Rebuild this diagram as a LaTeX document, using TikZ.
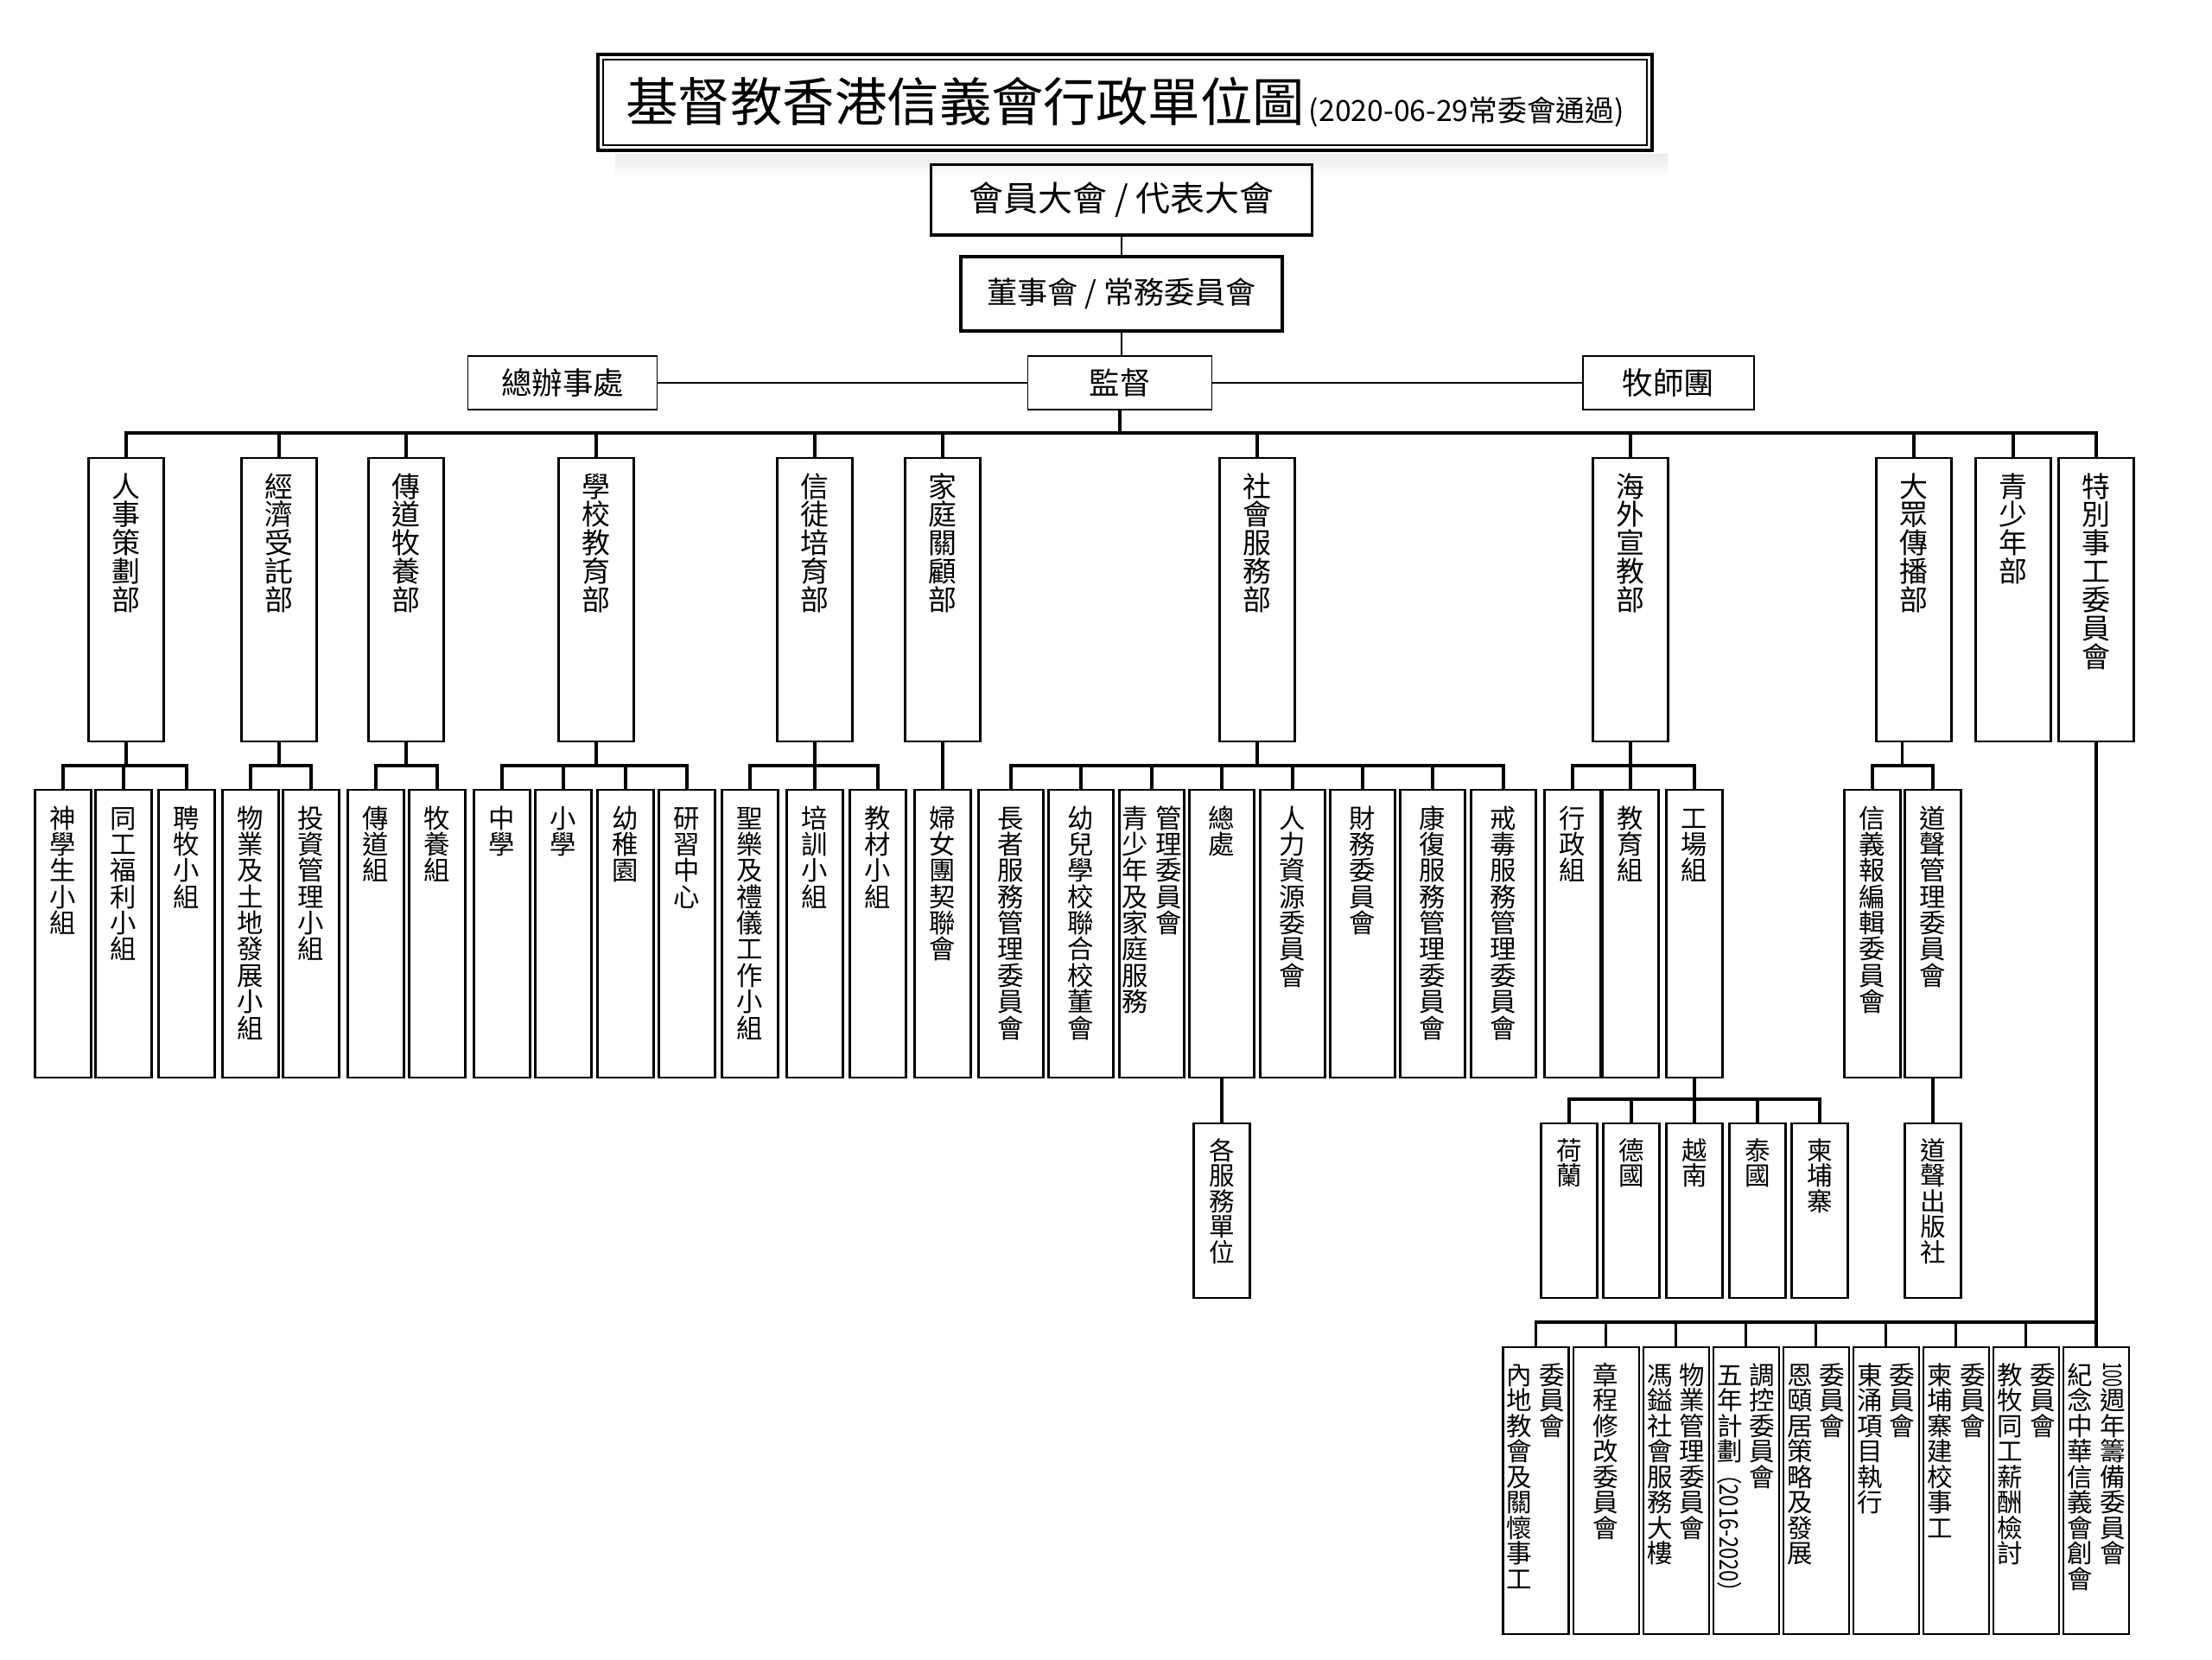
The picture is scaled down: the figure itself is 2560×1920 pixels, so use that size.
\documentclass[tikz,border=0pt]{standalone}
\usepackage{fontspec}
\setmainfont{Noto Sans CJK TC}
\usepackage{graphicx}
\def\vcolend{}
\newcommand{\vch}[1]{\hbox to 1em{\hss\vrule height .88em depth .12em width 0pt\relax#1\hss}}
\def\vcolloop#1{\ifx#1\vcolend\else\vch{#1}\expandafter\vcolloop\fi}
\newcommand{\vchars}[1]{\vcolloop#1\vcolend}
\newcommand{\vcolsetup}{\baselineskip=1em\lineskiplimit=0pt\lineskip=.1em\relax}
\newcommand{\vcol}[1]{\vtop{\vcolsetup\vchars{#1}}}
\newcommand{\vpair}[2]{\vcol{#1}\hskip2.9pt\vcol{#2}}
\newcommand{\vrot}[2][.8]{\hbox to 1em{\hss\raisebox{.88em}{\rotatebox{-90}{\scalebox{#1}[1]{#2}}}\hss}}
\begin{document}
\begin{tikzpicture}[x=0.0125cm,y=-0.0125cm,
	colbox/.style={draw,line width=0.75pt,inner sep=0pt,anchor=north},
	deptbox/.style={colbox,minimum width=1.0875cm,text height=0.5625cm,text depth=3.5375cm,font=\fontsize{11.7pt}{11.7pt}\selectfont},
	unitbox/.style={colbox,minimum width=0.8125cm,text height=0.55cm,text depth=3.6125cm,font=\fontsize{10.8pt}{10.8pt}\selectfont},
	wideunit/.style={unitbox,minimum width=0.9375cm},
	leafbox/.style={colbox,minimum width=0.8125cm,text height=0.525cm,text depth=1.995cm,font=\fontsize{10.5pt}{10.5pt}\selectfont},
	cmtebox/.style={colbox,minimum width=0.95cm,text height=0.5375cm,text depth=3.6125cm,font=\fontsize{10.5pt}{10.5pt}\selectfont},
	headbox/.style={draw,inner sep=0pt,font=\fontsize{12.6pt}{12.6pt}\selectfont},
	treeline/.style={line width=1.1pt,line cap=rect},
	linkline/.style={line width=1pt}]
	\fill[white] (0,0) rectangle (2560,1920);
	\useasboundingbox (0,0) rectangle (2560,1920);
	\shade[top color=black!8,bottom color=white] (712,178) rectangle (1930,206);
	\node[draw,line width=1.6pt,minimum width=15.25cm,minimum height=1.3875cm,inner sep=0pt] at (1302,118.5) (ttl) {{\fontsize{21.5pt}{21.5pt}\selectfont 基督教香港信義會行政單位圖}\,{\fontsize{12pt}{12pt}\selectfont (2020-06-29常委會通過)}};
	\draw[line width=0.6pt] ([shift={(3pt,3pt)}]ttl.south west) rectangle ([shift={(-3pt,-3pt)}]ttl.north east);
	\node[headbox,line width=1.2pt,minimum width=5.51cm,minimum height=1.02cm,font=\fontsize{14.2pt}{14.2pt}\selectfont] at (1298,231) (hyd) {會員大會 / 代表大會};
	\node[headbox,line width=1.4pt,minimum width=4.65cm,minimum height=1.08cm,font=\fontsize{12.5pt}{12.5pt}\selectfont] at (1298,340) (dsh) {董事會 / 常務委員會};
	\node[headbox,line width=0.6pt,minimum width=2.66cm,minimum height=0.77cm] at (1296,443) (jd) {監督};
	\node[headbox,line width=0.6pt,minimum width=2.74cm,minimum height=0.77cm] at (651,443) (zbs) {總辦事處};
	\node[headbox,line width=0.6pt,minimum width=2.475cm,minimum height=0.77cm] at (1931,443) (mst) {牧師團};
	\draw[linkline] (hyd.south) -- (dsh.north);
	\draw[linkline] (dsh.south) -- (dsh.south |- jd.north);
	\draw[line width=0.6pt] (jd.west) -- (zbs.east);
	\draw[line width=0.6pt] (jd.east) -- (mst.west);
	\coordinate (bus0) at (1296,501);
	\coordinate (bus1) at (0,886);
	\coordinate (bus2) at (0,1272);
	\coordinate (bus3) at (0,1530);
	\node[deptbox] at (146,529) (rsc) {\vcol{人事策劃部}};
	\node[deptbox] at (323,529) (jjs) {\vcol{經濟受託部}};
	\node[deptbox] at (470,529) (cdm) {\vcol{傳道牧養部}};
	\node[deptbox] at (690,529) (xxj) {\vcol{學校教育部}};
	\node[deptbox] at (943,529) (xtp) {\vcol{信徒培育部}};
	\node[deptbox] at (1091,529) (jtg) {\vcol{家庭關顧部}};
	\node[deptbox] at (1455,529) (shf) {\vcol{社會服務部}};
	\node[deptbox] at (1887,529) (hwx) {\vcol{海外宣教部}};
	\node[deptbox] at (2215,529) (dzc) {\vcol{大眾傳播部}};
	\node[deptbox] at (2330,529) (qsn) {\vcol{青少年部}};
	\node[deptbox] at (2426,529) (tbs) {\vcol{特別事工委員會}};
	\draw[treeline] (jd.south) -- (bus0)
	(rsc.north) |- (tbs.north |- bus0) -- (tbs.north);
	\path[treeline] (jjs.north) edge (jjs.north |- bus0)
	(cdm.north) edge (cdm.north |- bus0)
	(xxj.north) edge (xxj.north |- bus0)
	(xtp.north) edge (xtp.north |- bus0)
	(jtg.north) edge (jtg.north |- bus0)
	(shf.north) edge (shf.north |- bus0)
	(hwx.north) edge (hwx.north |- bus0)
	(dzc.north) edge (dzc.north |- bus0)
	(qsn.north) edge (qsn.north |- bus0);
	\node[unitbox] at (73,913) (rsc1) {\vcol{神學生小組}};
	\node[unitbox] at (143,913) (rsc2) {\vcol{同工福利小組}};
	\node[unitbox] at (216,913) (rsc3) {\vcol{聘牧小組}};
	\node[unitbox] at (290,913) (jjs1) {\vcol{物業及土地發展小組}};
	\node[unitbox] at (360,913) (jjs2) {\vcol{投資管理小組}};
	\node[unitbox] at (435,913) (cdm1) {\vcol{傳道組}};
	\node[unitbox] at (506,913) (cdm2) {\vcol{牧養組}};
	\node[unitbox] at (581,913) (xxj1) {\vcol{中學}};
	\node[unitbox] at (652,913) (xxj2) {\vcol{小學}};
	\node[unitbox] at (724,913) (xxj3) {\vcol{幼稚園}};
	\node[unitbox] at (795,913) (xxj4) {\vcol{研習中心}};
	\node[unitbox] at (868,913) (xtp1) {\vcol{聖樂及禮儀工作小組}};
	\node[unitbox] at (943,913) (xtp2) {\vcol{培訓小組}};
	\node[unitbox] at (1016,913) (xtp3) {\vcol{教材小組}};
	\node[unitbox] at (1091,913) (jtg1) {\vcol{婦女團契聯會}};
	\node[wideunit] at (1170,913) (shf1) {\vcol{長者服務管理委員會}};
	\node[wideunit] at (1251,913) (shf2) {\vcol{幼兒學校聯合校董會}};
	\node[wideunit] at (1333,913) (shf3) {\vpair{青少年及家庭服務}{管理委員會}};
	\node[wideunit] at (1414,913) (shf4) {\vcol{總處}};
	\node[wideunit] at (1496,913) (shf5) {\vcol{人力資源委員會}};
	\node[wideunit] at (1577,913) (shf6) {\vcol{財務委員會}};
	\node[wideunit] at (1658,913) (shf7) {\vcol{康復服務管理委員會}};
	\node[wideunit] at (1740,913) (shf8) {\vcol{戒毒服務管理委員會}};
	\node[unitbox] at (1820,913) (hwx1) {\vcol{行政組}};
	\node[unitbox] at (1887,913) (hwx2) {\vcol{教育組}};
	\node[unitbox] at (1961,913) (hwx3) {\vcol{工場組}};
	\node[unitbox] at (2167,913) (dzc1) {\vcol{信義報編輯委員會}};
	\node[unitbox] at (2237,913) (dzc2) {\vcol{道聲管理委員會}};
	\draw[treeline] (rsc.south) -- (rsc.south |- bus1)
	(rsc1.north) |- (rsc3.north |- bus1) -- (rsc3.north)
	(rsc2.north) -- (rsc2.north |- bus1);
	\draw[treeline] (jjs.south) -- (jjs.south |- bus1)
	(jjs1.north) |- (jjs2.north |- bus1) -- (jjs2.north);
	\draw[treeline] (cdm.south) -- (cdm.south |- bus1)
	(cdm1.north) |- (cdm2.north |- bus1) -- (cdm2.north);
	\draw[treeline] (xxj.south) -- (xxj.south |- bus1)
	(xxj1.north) |- (xxj4.north |- bus1) -- (xxj4.north)
	(xxj2.north) -- (xxj2.north |- bus1)
	(xxj3.north) -- (xxj3.north |- bus1);
	\draw[treeline] (xtp.south) -- (xtp.south |- bus1)
	(xtp1.north) |- (xtp3.north |- bus1) -- (xtp3.north)
	(xtp2.north) -- (xtp2.north |- bus1);
	\draw[treeline] (jtg.south) -- (jtg1.north);
	\draw[treeline] (shf.south) -- (shf.south |- bus1)
	(shf1.north) |- (shf8.north |- bus1) -- (shf8.north);
	\path[treeline] (shf2.north) edge (shf2.north |- bus1)
	(shf3.north) edge (shf3.north |- bus1)
	(shf4.north) edge (shf4.north |- bus1)
	(shf5.north) edge (shf5.north |- bus1)
	(shf6.north) edge (shf6.north |- bus1)
	(shf7.north) edge (shf7.north |- bus1);
	\draw[treeline] (hwx.south) -- (hwx2.north)
	(hwx1.north) |- (hwx3.north |- bus1) -- (hwx3.north);
	\draw[treeline] ([xshift=-0.17cm]dzc.south) -- ([xshift=-0.17cm]dzc.south |- bus1)
	(dzc1.north) |- (dzc2.north |- bus1) -- (dzc2.north);
	\node[leafbox] at (1414,1299) (gfd) {\vcol{各服務單位}};
	\node[leafbox] at (1816,1299) (hol) {\vcol{荷蘭}};
	\node[leafbox] at (1888,1299) (deu) {\vcol{德國}};
	\node[leafbox] at (1961,1299) (vie) {\vcol{越南}};
	\node[leafbox] at (2034,1299) (tha) {\vcol{泰國}};
	\node[leafbox] at (2106,1299) (khm) {\vcol{柬埔寨}};
	\node[leafbox] at (2237,1299) (dsc) {\vcol{道聲出版社}};
	\draw[treeline] (shf4.south) -- (gfd.north);
	\draw[treeline] (dzc2.south) -- (dsc.north);
	\draw[treeline] (hwx3.south) -- (vie.north)
	(hol.north) |- (khm.north |- bus2) -- (khm.north)
	(deu.north) -- (deu.north |- bus2)
	(tha.north) -- (tha.north |- bus2);
	\node[cmtebox] at (1777.5,1558) (tbs1) {\vpair{內地教會及關懷事工}{委員會}};
	\node[cmtebox] at (1858.6,1558) (tbs2) {\vcol{章程修改委員會}};
	\node[cmtebox] at (1939.6,1558) (tbs3) {\vpair{馮鎰社會服務大樓}{物業管理委員會}};
	\node[cmtebox] at (2020.7,1558) (tbs4) {\vtop{\vcolsetup\vchars{五年計劃}\vrot{（2016-2020）}}\hskip2.9pt\vcol{調控委員會}};
	\node[cmtebox] at (2101.7,1558) (tbs5) {\vpair{恩頤居策略及發展}{委員會}};
	\node[cmtebox] at (2182.8,1558) (tbs6) {\vpair{東涌項目執行}{委員會}};
	\node[cmtebox] at (2263.9,1558) (tbs7) {\vpair{柬埔寨建校事工}{委員會}};
	\node[cmtebox] at (2344.9,1558) (tbs8) {\vpair{教牧同工薪酬檢討}{委員會}};
	\node[cmtebox] at (2426,1558) (tbs9) {\vcol{紀念中華信義會創會}\hskip2.9pt\vtop{\vcolsetup\vrot[.6]{100}\vchars{週年籌備委員會}}};
	\draw[treeline] (tbs.south) -- (tbs9.north)
	(tbs1.north) |- (tbs9.north |- bus3);
	\path[treeline] (tbs2.north) edge (tbs2.north |- bus3)
	(tbs3.north) edge (tbs3.north |- bus3)
	(tbs4.north) edge (tbs4.north |- bus3)
	(tbs5.north) edge (tbs5.north |- bus3)
	(tbs6.north) edge (tbs6.north |- bus3)
	(tbs7.north) edge (tbs7.north |- bus3)
	(tbs8.north) edge (tbs8.north |- bus3);
\end{tikzpicture}
\end{document}
